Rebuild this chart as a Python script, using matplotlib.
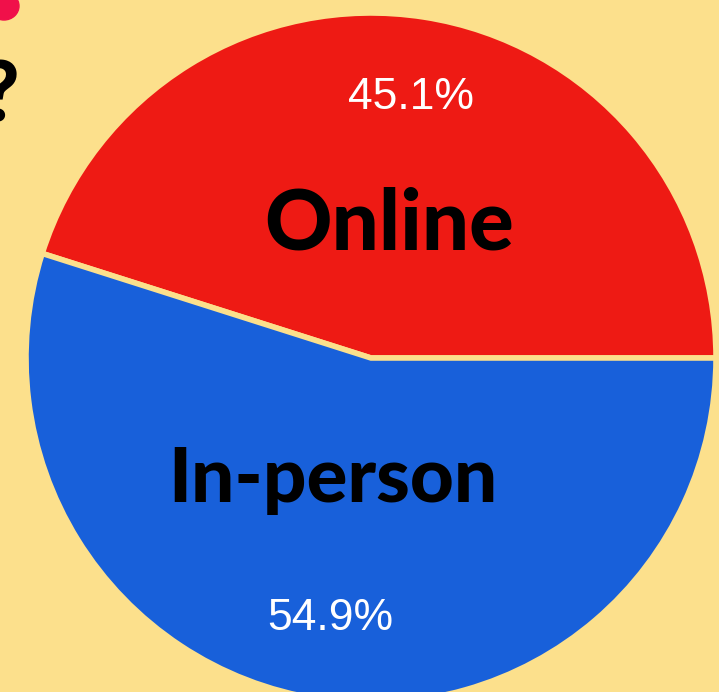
import matplotlib
matplotlib.use("Agg")
import matplotlib.pyplot as plt
from matplotlib.patches import Ellipse

# Data
categories = ["Online", "In-person"]
shares = [45.1, 54.9]
slice_colors = ["#EE1A14", "#1860DA"]

BG = "#FCE08C"
W, H = 719, 692

fig = plt.figure(figsize=(W / 100, H / 100), dpi=100, facecolor=BG)
ax = fig.add_axes([0, 0, 1, 1])
ax.set_facecolor(BG)

cx, cy, r = 371, H - 358, 345
wedges, texts, autotexts = ax.pie(
    shares,
    colors=slice_colors,
    startangle=0,
    counterclock=True,
    center=(cx, cy),
    radius=r,
    autopct="%.1f%%",
    pctdistance=0.765,
    wedgeprops=dict(edgecolor=BG, linewidth=4),
    textprops=dict(color="white", fontsize=32, family="Liberation Sans"),
    frame=True,
)
ax.set_xlim(0, W)
ax.set_ylim(0, H)
ax.set_aspect("equal")
ax.axis("off")

# Category labels inside slices
ax.text(389, H - 250, categories[0], ha="center", va="baseline",
        fontsize=60, fontweight="black", family="Lato", color="black")
ax.text(333, H - 502, categories[1], ha="center", va="baseline",
        fontsize=55, fontweight="black", family="Lato", color="black")

# Fragments of the cropped title at top-left
fig.patches.append(Ellipse((4 / W, 1 - 6 / H), 30 / W, 28 / H,
                           transform=fig.transFigure, color="#F0104A", zorder=5))
fig.text(19 / W, 1 - 122 / H, "?", ha="right", va="baseline",
         fontsize=60, fontweight="black", family="Lato", color="black")

fig.savefig("out.png", dpi=100, facecolor=BG)
